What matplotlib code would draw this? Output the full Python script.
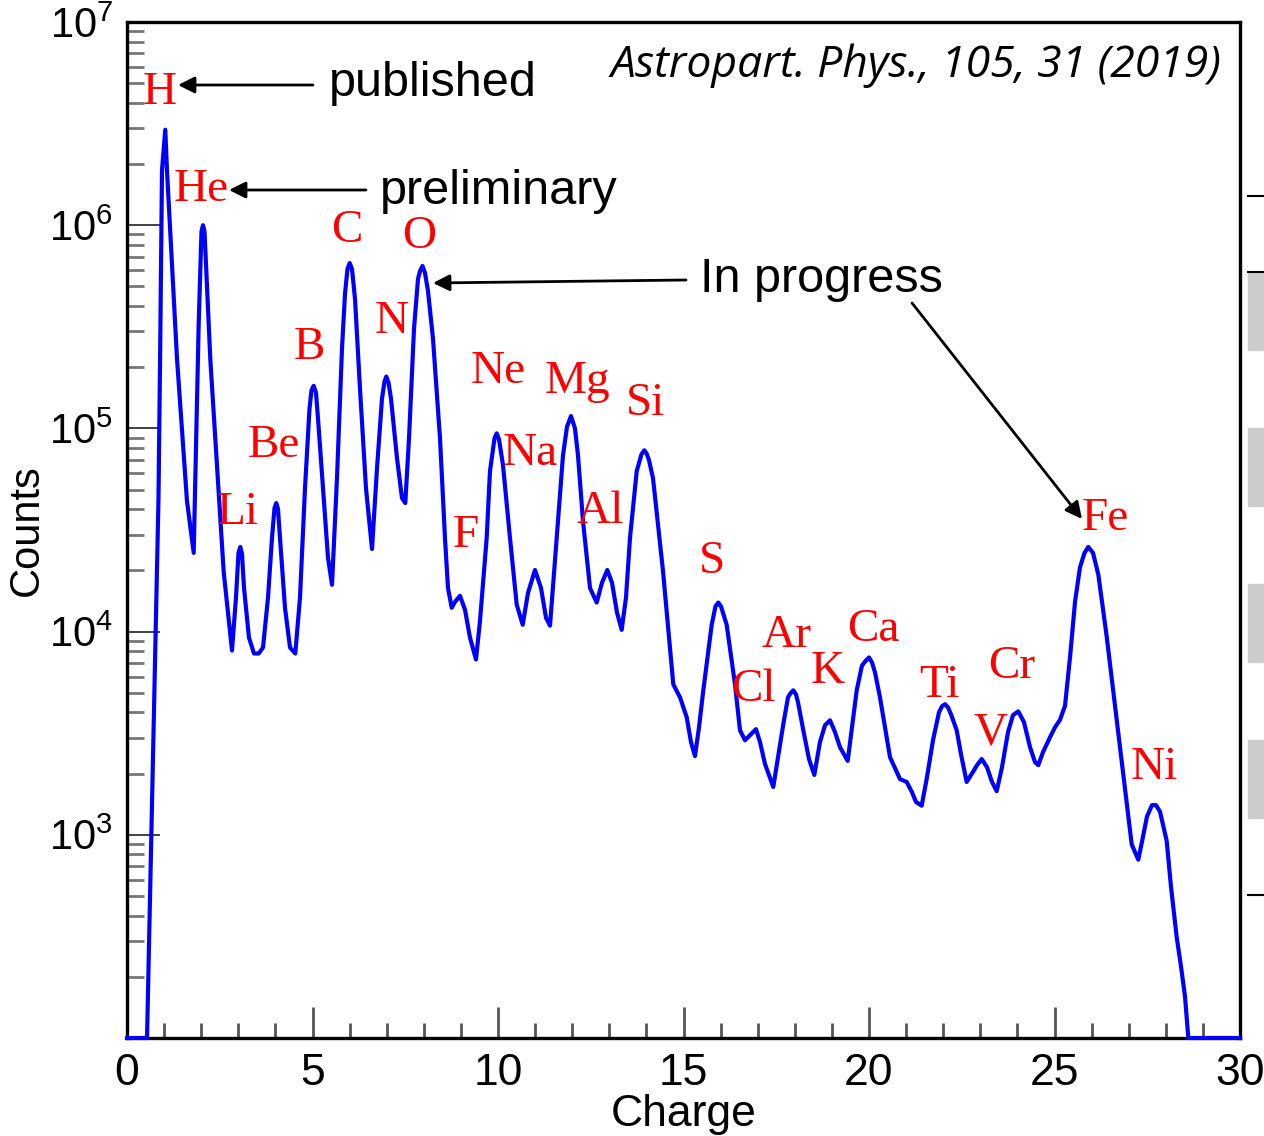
import matplotlib
matplotlib.use("Agg")
import matplotlib.pyplot as plt
from matplotlib.ticker import LogLocator, NullFormatter, FixedLocator, MultipleLocator
from matplotlib.patches import Rectangle
from matplotlib.lines import Line2D

plt.rcParams['font.family'] = ['Liberation Sans', 'DejaVu Sans']
plt.rcParams['mathtext.fontset'] = 'custom'
plt.rcParams['mathtext.rm'] = 'Liberation Sans'
plt.rcParams['mathtext.it'] = 'Liberation Sans:italic'

# ---- data ----
charge = [0.0, 0.54, 0.755, 0.849, 0.898, 0.943, 1.032, 1.078, 1.348, 1.617, 1.798,
          1.933, 2.008, 2.049, 2.089, 2.245, 2.426, 2.606, 2.830,
          2.938, 3.005, 3.054, 3.100, 3.154, 3.288, 3.423, 3.550, 3.666,
          3.801, 3.908, 3.976, 4.024, 4.070, 4.124, 4.259, 4.394, 4.536,
          4.663, 4.798, 4.919, 4.973, 5.032, 5.094, 5.148, 5.283, 5.418, 5.526,
          5.660, 5.795, 5.876, 5.943, 6.003, 6.065, 6.146, 6.280, 6.442, 6.604,
          6.739, 6.873, 6.941, 6.989, 7.049, 7.116, 7.278, 7.412, 7.501,
          7.601, 7.736, 7.844, 7.898, 7.965, 8.032, 8.113, 8.248, 8.437, 8.571, 8.652, 8.752,
          8.841, 8.976, 9.111, 9.245, 9.407,
          9.515, 9.695, 9.784, 9.906, 9.965, 10.027, 10.135, 10.323, 10.504, 10.666,
          10.809, 10.997, 11.159, 11.294, 11.402,
          11.582, 11.752, 11.860, 11.968, 12.075, 12.156, 12.291, 12.480, 12.660,
          12.803, 12.946, 13.073, 13.208, 13.334,
          13.450, 13.558, 13.739, 13.868, 13.944, 14.003, 14.070, 14.178, 14.447,
          14.725, 14.906, 15.086, 15.202, 15.310,
          15.418, 15.534, 15.760, 15.862, 15.938, 16.011, 16.164, 16.388, 16.523, 16.658,
          16.792, 16.954, 17.062, 17.197, 17.420,
          17.547, 17.690, 17.817, 17.884, 17.960, 18.032, 18.086, 18.229, 18.383, 18.526,
          18.679, 18.814, 18.949, 19.084, 19.218, 19.426,
          19.542, 19.669, 19.811, 19.919, 20.000, 20.081, 20.162, 20.296, 20.566,
          20.836, 21.016, 21.159, 21.267, 21.420,
          21.563, 21.725, 21.887, 21.968, 22.049, 22.129, 22.210, 22.364, 22.480, 22.633,
          22.803, 22.911, 23.038, 23.181, 23.315, 23.442,
          23.585, 23.747, 23.881, 24.024, 24.178, 24.340, 24.474, 24.563,
          24.690, 24.879, 25.013, 25.148, 25.283, 25.418, 25.553, 25.687, 25.809, 25.911,
          26.038, 26.181, 26.407, 26.631, 26.854, 27.081, 27.259,
          27.358, 27.493, 27.628, 27.736, 27.844, 28.024, 28.140, 28.294, 28.410,
          28.518, 28.607, 30.0]

counts = [100, 100, 6.9e3, 4.54e4, 2.79e5, 1.86e6, 2.95e6, 1.86e6, 2.20e5, 4.39e4, 2.44e4,
          3.31e5, 9.34e5, 1.0e6, 9.34e5, 2.20e5, 6.59e4, 1.97e4, 8.07e3,
          1.47e4, 2.44e4, 2.61e4, 2.41e4, 1.64e4, 9.34e3, 7.80e3, 7.80e3, 8.35e3,
          1.47e4, 2.89e4, 4.05e4, 4.29e4, 4.01e4, 2.89e4, 1.31e4, 8.35e3, 7.80e3,
          1.47e4, 5.08e4, 1.25e5, 1.54e5, 1.62e5, 1.50e5, 1.12e5, 5.08e4, 2.31e4, 1.70e4,
          5.69e4, 2.47e5, 4.59e5, 6.09e5, 6.51e5, 6.09e5, 4.34e5, 1.57e5, 5.08e4, 2.55e4,
          6.37e4, 1.40e5, 1.70e5, 1.80e5, 1.68e5, 1.40e5, 7.13e4, 4.54e4, 4.29e4,
          8.93e4, 3.09e5, 5.44e5, 5.95e5, 6.30e5, 5.82e5, 4.75e5, 2.76e5, 8.93e4, 2.89e4,
          1.64e4, 1.31e4,
          1.40e4, 1.50e4, 1.28e4, 9.34e3, 7.29e3,
          1.13e4, 2.89e4, 6.16e4, 8.93e4, 9.45e4, 8.83e4, 6.59e4, 2.89e4, 1.36e4, 1.08e4,
          1.55e4, 2.01e4, 1.64e4, 1.17e4, 1.07e4,
          2.89e4, 7.37e4, 1.02e5, 1.15e5, 1.0e5, 7.37e4, 3.50e4, 1.64e4, 1.39e4,
          1.74e4, 2.01e4, 1.74e4, 1.24e4, 1.02e4,
          1.47e4, 2.89e4, 6.16e4, 7.46e4, 7.80e4, 7.54e4, 6.97e4, 5.69e4, 1.99e4,
          5.50e3, 4.75e3, 3.79e3, 2.86e3, 2.44e3,
          3.38e3, 5.14e3, 1.08e4, 1.33e4, 1.39e4, 1.33e4, 1.08e4, 5.50e3, 3.27e3, 2.92e3,
          3.09e3, 3.31e3, 2.86e3, 2.23e3, 1.72e3,
          2.41e3, 3.50e3, 4.75e3, 4.97e3, 5.14e3, 4.91e3, 4.49e3, 3.27e3, 2.36e3, 1.97e3,
          2.86e3, 3.46e3, 3.66e3, 3.20e3, 2.70e3, 2.31e3,
          3.38e3, 5.14e3, 6.81e3, 7.21e3, 7.46e3, 7.05e3, 6.30e3, 4.75e3, 2.41e3,
          1.88e3, 1.82e3, 1.62e3, 1.45e3, 1.39e3,
          1.92e3, 2.92e3, 4.01e3, 4.29e3, 4.39e3, 4.24e3, 3.92e3, 3.27e3, 2.49e3, 1.82e3,
          2.04e3, 2.20e3, 2.36e3, 2.15e3, 1.82e3, 1.64e3,
          2.15e3, 3.20e3, 3.88e3, 4.05e3, 3.58e3, 2.70e3, 2.28e3, 2.20e3,
          2.55e3, 3.02e3, 3.38e3, 3.68e3, 4.31e3, 7.46e3, 1.40e4, 2.07e4, 2.44e4, 2.61e4,
          2.44e4, 1.91e4, 9.45e3, 4.31e3, 1.97e3, 897, 754,
          924, 1.23e3, 1.40e3, 1.40e3, 1.30e3, 934, 556, 313, 225,
          160, 100, 100]

elements = ['H', 'He', 'Li', 'Be', 'B', 'C', 'N', 'O', 'F', 'Ne', 'Na', 'Mg', 'Al',
            'Si', 'S', 'Cl', 'Ar', 'K', 'Ca', 'Ti', 'V', 'Cr', 'Fe', 'Ni']
x_ticks = [0, 5, 10, 15, 20, 25, 30]
y_ticks = [1e3, 1e4, 1e5, 1e6, 1e7]

# ---- figure ----
W, H = 1264, 1136
fig = plt.figure(figsize=(W / 100, H / 100), dpi=100)
ax = fig.add_axes([127 / W, 1 - 1038 / H, (1240 - 127) / W, (1038 - 22) / H])

ax.plot(charge, counts, color='#0000ff', lw=3.0, solid_joinstyle='round', clip_on=False, zorder=3)
ax.set_yscale('log')
ax.set_xlim(0, 30)
ax.set_ylim(100, 1e7)

for s in ax.spines.values():
    s.set_linewidth(2.4)
    s.set_color('black')

ax.xaxis.set_major_locator(FixedLocator(x_ticks))
ax.xaxis.set_minor_locator(MultipleLocator(1))
ax.yaxis.set_major_locator(FixedLocator(y_ticks))
ax.yaxis.set_minor_locator(LogLocator(base=10, subs=range(2, 10), numticks=20))
ax.yaxis.set_minor_formatter(NullFormatter())
ax.tick_params(axis='both', which='both', direction='in', top=False, right=False)
ax.tick_params(axis='x', which='major', length=22, width=2, color='#555555', pad=11, labelsize=32)
ax.tick_params(axis='x', which='minor', length=11, width=2, color='#555555')
ax.tick_params(axis='y', which='major', length=24, width=1.3, color='#333333', pad=10, labelsize=30)
ax.tick_params(axis='y', which='minor', length=12, width=2, color='#777777')

ax.set_xlabel('Charge', fontsize=32, labelpad=0)
ax.set_ylabel('Counts', fontsize=30, labelpad=2)

# element labels (axes fraction positions)
label_pos = {'H': (0.0296, 0.930), 'He': (0.0665, 0.835), 'C': (0.1977, 0.795),
             'O': (0.2624, 0.789), 'B': (0.1635, 0.679), 'N': (0.238, 0.705),
             'Ne': (0.3333, 0.6555), 'Mg': (0.4043, 0.6457), 'Si': (0.4663, 0.624),
             'Be': (0.1321, 0.5827), 'Na': (0.3621, 0.5748), 'Li': (0.0997, 0.5167),
             'Al': (0.425, 0.5177), 'F': (0.3046, 0.4941), 'S': (0.5256, 0.4685),
             'Ar': (0.5921, 0.3957), 'Ca': (0.6703, 0.4016), 'Cl': (0.5624, 0.3425),
             'K': (0.6298, 0.3602), 'Ti': (0.7296, 0.3465), 'Cr': (0.7951, 0.3652),
             'V': (0.7754, 0.3002), 'Fe': (0.8787, 0.5108), 'Ni': (0.9227, 0.2657)}
for el in elements:
    fx, fy = label_pos[el]
    ax.text(fx, fy, el, transform=ax.transAxes, color='red', fontsize=34,
            family='Liberation Serif', ha='center', va='center', zorder=4)

# black annotations (figure pixel coordinates, origin bottom-left)
def fp(x, y):
    return (x, H - y)

arrow_kw = dict(arrowstyle='-|>', lw=2.0, color='black', mutation_scale=25,
                shrinkA=0, shrinkB=0)
ax.annotate('', xy=fp(178, 85), xytext=fp(313, 85), xycoords='figure pixels',
            textcoords='figure pixels', arrowprops=arrow_kw)
ax.annotate('', xy=fp(229, 190), xytext=fp(366, 190), xycoords='figure pixels',
            textcoords='figure pixels', arrowprops=arrow_kw)
ax.annotate('', xy=fp(433, 283), xytext=fp(686, 280), xycoords='figure pixels',
            textcoords='figure pixels', arrowprops=arrow_kw)
ax.annotate('', xy=fp(1082, 519), xytext=fp(912, 303), xycoords='figure pixels',
            textcoords='figure pixels', arrowprops=arrow_kw)

fig.text(433 / W, 1 - 84 / H, 'published', fontsize=35, ha='center', va='center')
fig.text(499 / W, 1 - 191 / H, 'preliminary', fontsize=35, ha='center', va='center')
fig.text(821 / W, 1 - 280 / H, 'In progress', fontsize=35, ha='center', va='center')
fig.text(1221 / W, 1 - 66 / H, 'Astropart. Phys., 105, 31 (2019)', fontsize=32,
         family='Open Sans', style='italic', ha='right', va='center')

# artifacts at the right edge of the reference
for y0, y1 in [(272, 350), (428, 506), (584, 662), (740, 818)]:
    fig.patches.append(Rectangle((1248 / W, 1 - y1 / H), (W - 1248) / W, (y1 - y0) / H,
                                 transform=fig.transFigure, color='#cccccc', zorder=0))
for yy in [196, 272, 895]:
    fig.lines.append(Line2D([1248 / W, 1263 / W], [1 - yy / H, 1 - yy / H],
                            transform=fig.transFigure, color='black', lw=1.5))

fig.savefig('out.png', dpi=100)
